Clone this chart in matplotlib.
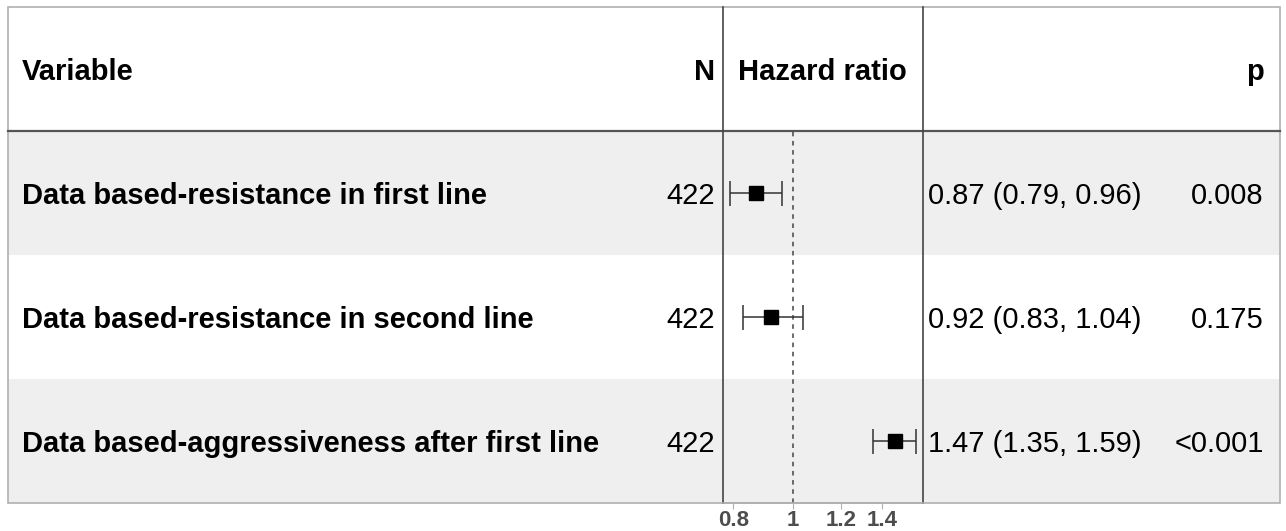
import numpy as np
import matplotlib.pyplot as plt
from matplotlib.patches import Rectangle

plt.rcParams['font.family'] = ['Liberation Sans', 'DejaVu Sans']

variables = ['Data based-resistance in first line',
             'Data based-resistance in second line',
             'Data based-aggressiveness after first line']
n_obs = [422, 422, 422]
hr = [0.87, 0.92, 1.47]
ci_low = [0.79, 0.83, 1.35]
ci_high = [0.96, 1.04, 1.59]
hr_labels = ['0.87 (0.79, 0.96)', '0.92 (0.83, 1.04)', '1.47 (1.35, 1.59)']
p_labels = ['0.008', '0.175', '<0.001']
xticks = [0.8, 1, 1.2, 1.4]
xtick_labels = ['0.8', '1', '1.2', '1.4']

W, H = 1286, 531
fig = plt.figure(figsize=(W / 100, H / 100), dpi=100)

# background table drawn in pixel coordinates
bg = fig.add_axes([0, 0, 1, 1])
bg.set_xlim(0, W)
bg.set_ylim(H, 0)
bg.axis('off')

left, right, top, head, bottom = 8, 1280, 7, 131, 503
col1, col2 = 722.5, 922.5
row_h = (bottom - head) / len(variables)

for i in range(len(variables)):
    y0 = head + i * row_h
    if i % 2 == 0:
        bg.add_patch(Rectangle((left, y0), right - left, row_h,
                               facecolor='#efefef', edgecolor='none', zorder=0))
bg.add_patch(Rectangle((left, top), right - left, bottom - top,
                       facecolor='none', edgecolor='#b0b0b0', lw=1.2, zorder=3))
bg.plot([left, right], [head, head], color='#555555', lw=1.6, zorder=3)
for xc in (col1, col2):
    bg.plot([xc, xc], [top, bottom], color='#444444', lw=1.2, zorder=3)

fs = 21
hy = (top + head) / 2 + 3
bg.text(22, hy, 'Variable', fontsize=fs, fontweight='bold', va='center', ha='left')
bg.text(715, hy, 'N', fontsize=fs, fontweight='bold', va='center', ha='right')
bg.text(738, hy, 'Hazard ratio', fontsize=fs, fontweight='bold', va='center', ha='left')
bg.text(1264, hy, 'p', fontsize=fs, fontweight='bold', va='center', ha='right')

for i, var in enumerate(variables):
    yc = head + (i + 0.5) * row_h + 3
    bg.text(22, yc, var, fontsize=fs, fontweight='bold', va='center', ha='left')
    bg.text(715, yc, str(n_obs[i]), fontsize=fs, va='center', ha='right')
    bg.text(928, yc, hr_labels[i], fontsize=fs, va='center', ha='left')
    bg.text(1264, yc, p_labels[i], fontsize=fs, va='center', ha='right')

# forest plot panel
ax = fig.add_axes([col1 / W, (H - bottom) / H, (col2 - col1) / W, (bottom - head) / H])
ax.patch.set_alpha(0)
ax.set_xscale('log')
ax.set_xlim(0.768, 1.627)
ax.set_ylim(len(variables) - 0.5, -0.5)
ypos = np.arange(len(variables))
hr_arr = np.array(hr)
err = [hr_arr - np.array(ci_low), np.array(ci_high) - hr_arr]
ax.errorbar(hr_arr, ypos, xerr=err, fmt='none', ecolor='#333333',
            elinewidth=1.1, capsize=9, capthick=1.1, zorder=3)
ax.plot(hr_arr, ypos, 's', color='black', markersize=9.5, zorder=4)
ax.axvline(1, color='#444444', lw=1.1, ls=(0, (3, 3)), zorder=2)

for s in ('top', 'left', 'right'):
    ax.spines[s].set_visible(False)
ax.spines['bottom'].set_color('#b0b0b0')
ax.spines['bottom'].set_linewidth(1.2)
ax.set_yticks([])
ax.minorticks_off()
ax.set_xticks(xticks)
ax.set_xticklabels(xtick_labels)
ax.tick_params(axis='x', which='both', length=4, color='#b0b0b0', pad=1,
               labelsize=16, labelcolor='#4d4d4d')
for lab in ax.get_xticklabels():
    lab.set_fontweight('bold')
ax.xaxis.set_minor_locator(plt.NullLocator())

fig.savefig('out.png', dpi=100)
